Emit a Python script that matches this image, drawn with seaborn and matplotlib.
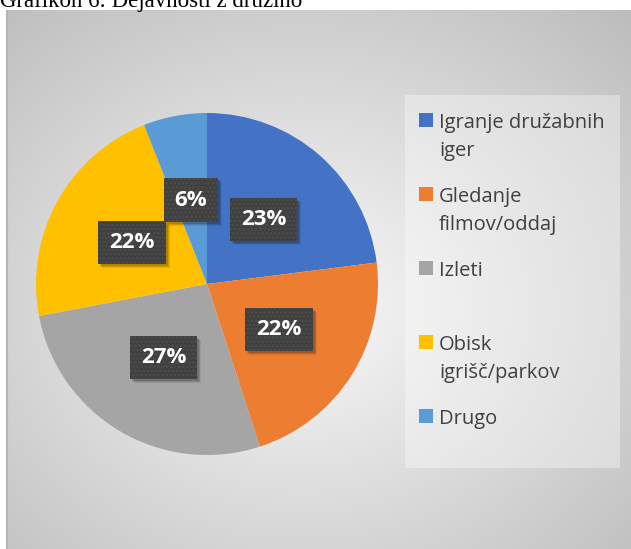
import numpy as np
import matplotlib
matplotlib.use("Agg")
import matplotlib.pyplot as plt
import matplotlib.transforms as mtrans
from matplotlib.patches import Rectangle
import seaborn as sns

# podatki
categories = ["Igranje družabnih\niger", "Gledanje\nfilmov/oddaj", "Izleti",
              "Obisk\nigrišč/parkov", "Drugo"]
shares = [23, 22, 27, 22, 6]
colors = ["#4472C4", "#ED7D31", "#A5A5A5", "#FFC000", "#5B9BD5"]
title = "Grafikon 6: Dejavnosti z družino"

sns.set_theme(style="white")
plt.rcParams["font.family"] = ["Open Sans", "DejaVu Sans"]

W, H = 631, 549
fig = plt.figure(figsize=(W / 100, H / 100), dpi=100)
fig.patch.set_facecolor("white")


def fx(px):
    return px / W


def fy(py):
    # py measured from the top of the image
    return 1 - py / H


# radial grey gradient behind the chart area
x0, x1, y0, y1 = 6, 631, 10, 549
bg = fig.add_axes([fx(x0), fy(y1), fx(x1 - x0), (y1 - y0) / H])
gx, gy = np.meshgrid(np.linspace(-1, 1, 300), np.linspace(-1, 1, 260))
r = np.sqrt((gx + 0.05) ** 2 + (gy - 0.1) ** 2) / np.sqrt(2)
grad = 0.975 - 0.22 * np.clip(r, 0, 1.2)
bg.imshow(grad, cmap="gray", vmin=0, vmax=1, aspect="auto",
          extent=[0, 1, 0, 1], interpolation="bicubic")
bg.axvline(0.002, color="#b5b5b5", lw=1.5)
bg.set_axis_off()

# title, mostly cut off by the top edge
fig.text(fx(0), fy(7), title, family="Liberation Serif", fontsize=16.5,
         color="black", va="baseline", ha="left")

# pie
cx, cy, rad = 207, 284, 171
ax = fig.add_axes([fx(cx - rad), fy(cy + rad), 2 * rad / W, 2 * rad / H])
ax.set_facecolor("none")
wedges, _, autotexts = ax.pie(
    shares, colors=colors, startangle=90, counterclock=False,
    autopct=lambda p: f"{p:.0f}%", pctdistance=0.5, radius=1,
    wedgeprops=dict(linewidth=0),
    textprops=dict(color="white", fontsize=16, fontweight="bold", zorder=5))
ax.set_xlim(-1, 1)
ax.set_ylim(-1, 1)
ax.set_aspect("equal")
plt.rcParams["hatch.linewidth"] = 1.3
for t in autotexts:
    t.set_bbox(dict(boxstyle="square,pad=0.5", facecolor="#404040",
                    edgecolor="#4d4d4d", linewidth=0, hatch="...."))

# soft shadow under each label box, placed after a first draw
fig.canvas.draw()
for t in autotexts:
    ext = t.get_bbox_patch().get_window_extent()
    for k, a in [(4, 0.08), (3, 0.12), (2, 0.15)]:
        ax.add_artist(Rectangle((ext.x0 + k, ext.y0 - k), ext.width, ext.height,
                                transform=mtrans.IdentityTransform(),
                                facecolor="black", alpha=a, edgecolor="none",
                                zorder=4, clip_on=False))

# legend, drawn by hand so the swatch sits on the first text line
lg = fig.add_axes([0, 0, 1, 1])
lg.set_axis_off()
lg.set_xlim(0, W)
lg.set_ylim(H, 0)
lg.add_patch(Rectangle((405, 95), 215, 373, facecolor="white", alpha=0.35,
                       edgecolor="none"))
base0, step, line_h = 128, 74, 28
for i, (lab, col) in enumerate(zip(categories, colors)):
    b = base0 + i * step
    lg.add_patch(Rectangle((419, b - 15), 14, 14, facecolor=col, edgecolor="none"))
    for j, line in enumerate(lab.split("\n")):
        lg.text(439, b + j * line_h, line, fontsize=14.5, color="#404040",
                va="baseline", ha="left")

fig.savefig("out.png", dpi=100)
